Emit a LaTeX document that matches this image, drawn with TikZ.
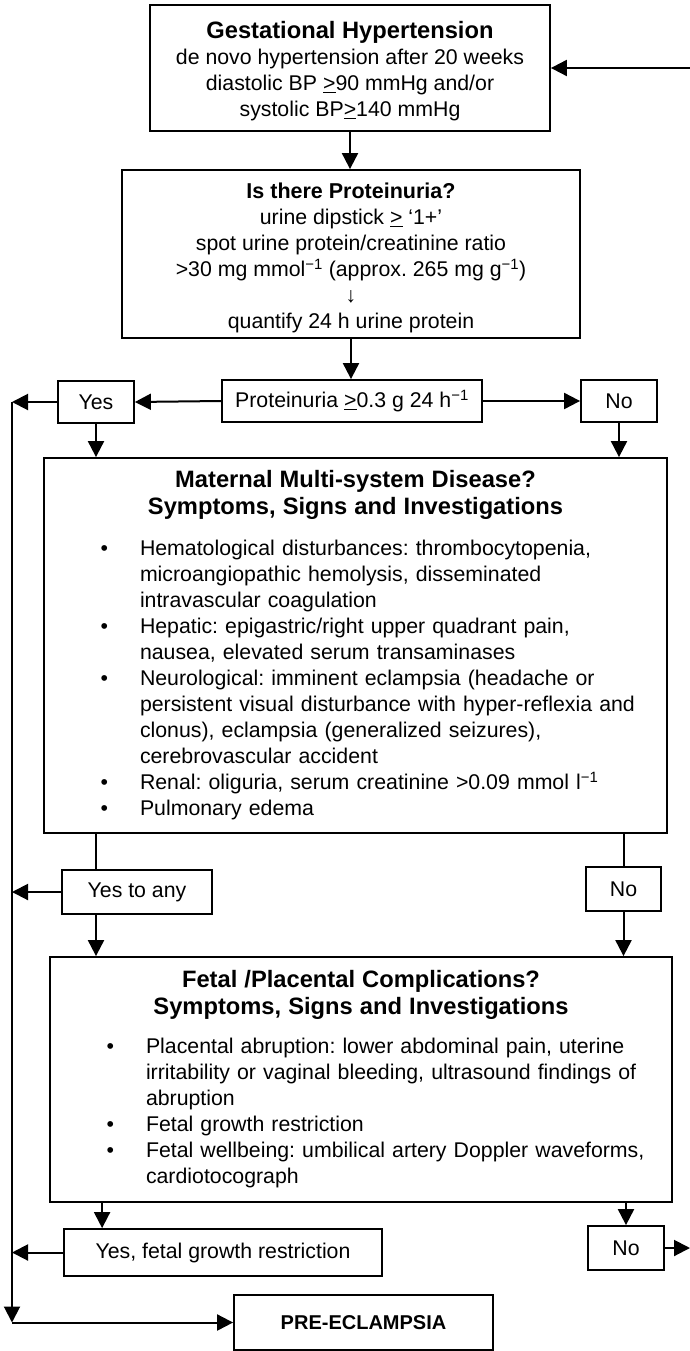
\documentclass[tikz,border=0pt]{standalone}
\usepackage{fontspec}
\setmainfont{Liberation Sans}
\usetikzlibrary{arrows.meta}
\newcommand{\titulo}{\bfseries\fontsize{23.7}{27}\selectfont}
\newcommand{\corpo}{\fontsize{21.3}{26}\selectfont\frenchspacing}
\newenvironment{marcadores}{\begin{list}{\textbullet}{%
    \setlength{\leftmargin}{86pt}\setlength{\labelsep}{32pt}%
    \setlength{\labelwidth}{20pt}\setlength{\itemsep}{0pt}%
    \setlength{\parsep}{0pt}\setlength{\topsep}{0pt}\setlength{\partopsep}{0pt}}\raggedright}{\end{list}}
\tikzset{
    caixa/.style={draw=black, line width=1.8pt, align=center, font=\corpo, inner sep=0pt},
    grande/.style={draw=black, line width=1.8pt, font=\corpo, inner xsep=10pt, inner ysep=0pt, text width=#1},
    seta/.style={line width=2pt, -{Triangle[length=16pt,width=16pt]}},
    linha/.style={line width=2pt}
}
\begin{document}
\begin{tikzpicture}[x=1pt, y=-1pt]
    \useasboundingbox (0,0) rectangle (690,1351);
    \node[caixa, minimum width=400pt, minimum height=126pt] (hip) at (350,68)
        {\rule{0pt}{24pt}{\titulo Gestational Hypertension}\\de novo hypertension after 20 weeks\\
         diastolic BP \underline{>}90 mmHg and/or\\systolic BP\underline{>}140 mmHg};
    \node[caixa, minimum width=458pt, minimum height=168pt] (prot) at (351,254)
        {\rule{0pt}{24pt}{\bfseries\fontsize{21.5}{26}\selectfont Is there Proteinuria?}\\urine dipstick \underline{>} ‘1+’\\
         spot urine protein/creatinine ratio\\
         >30 mg mmol\textsuperscript{−1} (approx. 265 mg g\textsuperscript{−1})\\↓\\quantify 24 h urine protein};
    \node[caixa, minimum width=260pt, minimum height=42pt] (quant) at (352,401)
        {Proteinuria \underline{>}0.3 g 24 h\textsuperscript{−1}};
    \node[caixa, minimum width=76pt, minimum height=42pt] (sim1) at (96,402) {Yes};
    \node[caixa, minimum width=76pt, minimum height=42pt] (nao1) at (619,401) {No};
    \node[grande=603pt, minimum height=375pt] (mat) at (355.5,645.5) {%
        {\centering\titulo Maternal Multi-system Disease?\\Symptoms, Signs and Investigations\par}%
        \vspace{15pt}%
        \begin{marcadores}
        \item Hematological disturbances: thrombocytopenia,\\microangiopathic hemolysis, disseminated\\intravascular coagulation
        \item Hepatic: epigastric/right upper quadrant pain,\\nausea, elevated serum transaminases
        \item Neurological: imminent eclampsia (headache or\\persistent visual disturbance with hyper-reflexia and\\clonus), eclampsia (generalized seizures),\\cerebrovascular accident
        \item Renal: oliguria, serum creatinine >0.09 mmol l\textsuperscript{−1}
        \item Pulmonary edema
        \end{marcadores}};
    \node[caixa, minimum width=150pt, minimum height=44pt] (sim2) at (137,892) {Yes to any};
    \node[caixa, minimum width=75pt, minimum height=44pt] (nao2) at (623.5,889) {No};
    \node[grande=602pt, minimum height=245pt] (fet) at (361,1079.5) {%
        {\centering\titulo Fetal /Placental Complications?\\Symptoms, Signs and Investigations\par}%
        \vspace{13pt}%
        \begin{marcadores}
        \item Placental abruption: lower abdominal pain, uterine\\irritability or vaginal bleeding, ultrasound findings of\\abruption
        \item Fetal growth restriction
        \item Fetal wellbeing: umbilical artery Doppler waveforms,\\cardiotocograph
        \end{marcadores}};
    \node[caixa, minimum width=318pt, minimum height=47pt] (sim3) at (223,1252.5) {Yes, fetal growth restriction};
    \node[caixa, minimum width=76pt, minimum height=44pt] (nao3) at (626,1248) {No};
    \node[caixa, minimum width=259pt, minimum height=55pt, font=\bfseries\fontsize{20}{24}\selectfont] (pre) at (363.5,1322.5) {PRE-ECLAMPSIA};
    \coordinate (entrada) at (690,68);
    \coordinate (saida) at (690,1248);
    \coordinate (barra) at (12,402);
    \coordinate (d3) at ([xshift=39pt]sim3.north west);
    \draw[seta] (entrada) -- (hip.east);
    \draw[seta] (hip.south) -- (hip.south |- prot.north);
    \draw[seta] (prot.south) -- (prot.south |- quant.north);
    \draw[seta] (quant.west) -- (sim1.east);
    \draw[seta] (quant.east) -- (nao1.west);
    \draw[seta] (sim1.west) -- (barra);
    \draw[seta] (sim1.south) -- (sim1.south |- mat.north);
    \draw[seta] (nao1.south) -- (nao1.south |- mat.north);
    \draw[linha] (sim1.south |- mat.south) -- (sim1.south |- sim2.north);
    \draw[linha] (nao2.north |- mat.south) -- (nao2.north);
    \draw[seta] (sim1.south |- sim2.south) -- (sim1.south |- fet.north);
    \draw[seta] (nao2.south) -- (nao2.south |- fet.north);
    \draw[seta] (sim2.west) -- (sim2.west -| barra);
    \draw[seta] (d3 |- fet.south) -- (d3);
    \draw[seta] (nao3.north |- fet.south) -- (nao3.north);
    \draw[seta] (sim3.west) -- (sim3.west -| barra);
    \draw[seta] (nao3.east) -- (saida);
    \draw[seta] (barra) -- (pre.west -| barra);
    \draw[seta] (pre.west -| barra) -- (pre.west);
\end{tikzpicture}
\end{document}
